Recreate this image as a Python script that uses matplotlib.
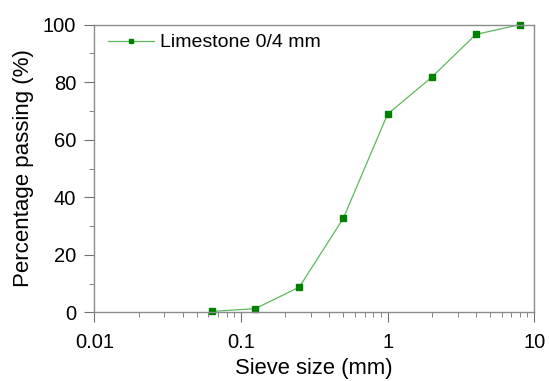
import numpy as np
from matplotlib import pyplot as plt
from matplotlib.ticker import FixedLocator, NullFormatter, MultipleLocator

plt.rcParams['font.family'] = ['Liberation Sans', 'DejaVu Sans']

sieve = [0.063, 0.125, 0.25, 0.5, 1, 2, 4, 8]
passing = [0.35, 1.3, 8.8, 32.8, 68.9, 81.7, 96.6, 100]
label = "Limestone 0/4 mm"

fig = plt.figure(figsize=(5.49, 3.81), dpi=100)
ax = fig.add_axes([0.172, 0.180, 0.801, 0.7554])

ax.plot(sieve, passing, color='#5cb85c', lw=0.9, marker='s', ms=4.3,
        markerfacecolor='#008000', markeredgecolor='#008000', label=label, clip_on=False)

ax.set_xscale('log')
ax.set_xlim(0.01, 10)
ax.set_ylim(0, 100)
ax.set_xticks([0.01, 0.1, 1, 10])
ax.set_xticklabels(['0.01', '0.1', '1', '10'])
ax.xaxis.set_minor_locator(FixedLocator([m * d for d in (0.01, 0.1, 1) for m in range(2, 10)]))
ax.xaxis.set_minor_formatter(NullFormatter())
ax.yaxis.set_major_locator(MultipleLocator(20))
ax.yaxis.set_minor_locator(MultipleLocator(10))

for s in ax.spines.values():
    s.set_color('#8c8c8c')
    s.set_linewidth(1.0)
ax.tick_params(which='both', direction='out', color='#707070', labelsize=14.5,
               top=False, right=False, pad=6)
ax.tick_params(axis='x', pad=7.5)
ax.tick_params(which='major', length=7.2)
ax.tick_params(which='minor', length=3.6)

ax.set_xlabel('Sieve size (mm)', fontsize=15.8, labelpad=4.5)
ax.set_ylabel('Percentage passing (%)', fontsize=16, labelpad=6)
ax.legend(loc='upper left', bbox_to_anchor=(0.031, 0.968), frameon=False, fontsize=14,
          handlelength=2.35, borderpad=0, borderaxespad=0, handletextpad=0.3,
          markerscale=0.8)

fig.savefig('out.png', dpi=100)
